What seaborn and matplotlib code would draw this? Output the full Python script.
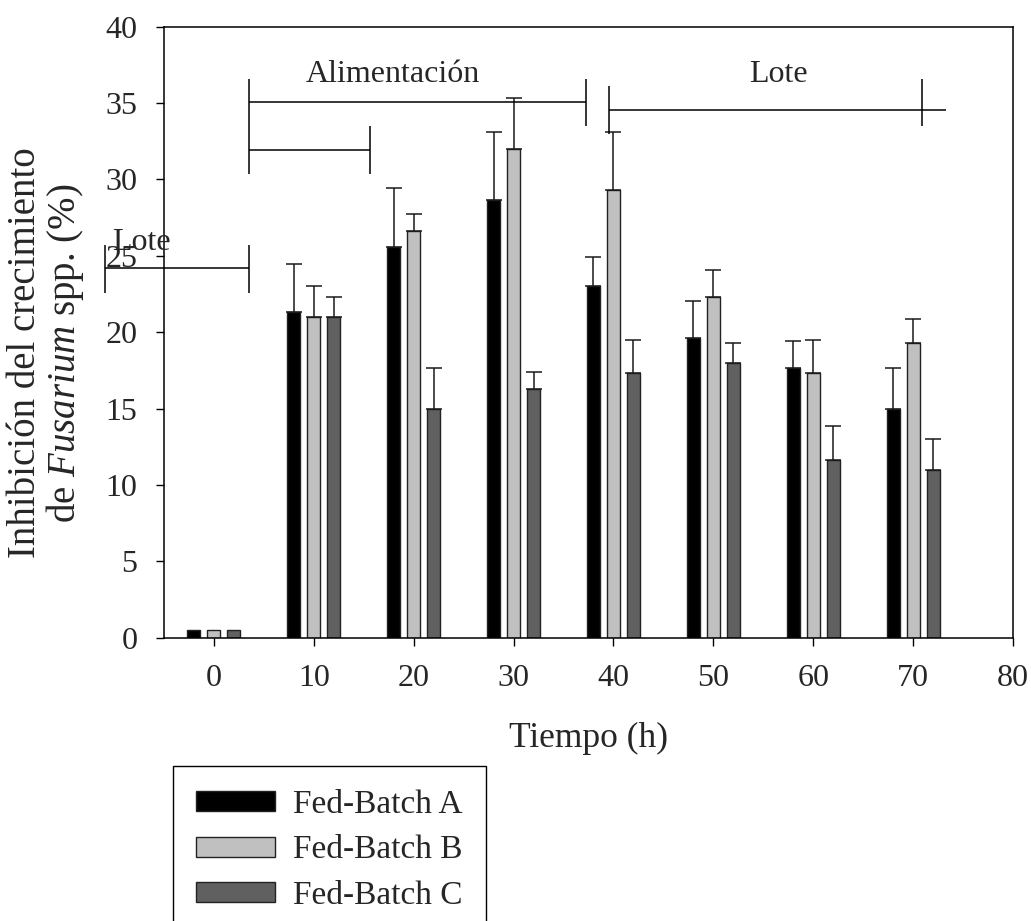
import numpy as np
import pandas as pd
import matplotlib
matplotlib.use("Agg")
import matplotlib.pyplot as plt
import seaborn as sns

# --- data -------------------------------------------------------------
tiempo = [0, 10, 20, 30, 40, 50, 60, 70]
series = ["Fed-Batch A", "Fed-Batch B", "Fed-Batch C"]
fb_a = [0.5, 21.3, 25.6, 28.65, 23.0, 19.65, 17.65, 15.0]
fb_b = [0.5, 21.0, 26.65, 32.0, 29.3, 22.3, 17.3, 19.3]
fb_c = [0.5, 21.0, 15.0, 16.3, 17.3, 18.0, 11.65, 11.0]
err_a = [0, 3.15, 3.85, 4.45, 1.95, 2.4, 1.8, 2.65]
err_b = [0, 2.0, 1.1, 3.3, 3.8, 1.8, 2.2, 1.55]
err_c = [0, 1.3, 2.65, 1.1, 2.2, 1.3, 2.2, 2.0]
colores = ["#000000", "#c0c0c0", "#606060"]
y_ticks = [0, 5, 10, 15, 20, 25, 30, 35, 40]
x_ticks = [0, 10, 20, 30, 40, 50, 60, 70, 80]

df = pd.DataFrame({
    "Tiempo": tiempo * 3,
    "Serie": [s for s in series for _ in tiempo],
    "Inhibicion": fb_a + fb_b + fb_c,
})

# --- style ------------------------------------------------------------
sns.set_style("ticks")
plt.rcParams["font.family"] = ["Liberation Serif", "DejaVu Serif"]
plt.rcParams["mathtext.fontset"] = "custom"
plt.rcParams["mathtext.rm"] = "Liberation Serif"
plt.rcParams["mathtext.it"] = "Liberation Serif:italic"

fig = plt.figure(figsize=(10.31, 9.21), dpi=100)
ax = fig.add_axes([164 / 1031, 1 - 637.7 / 921, (1013 - 164) / 1031, (637.7 - 26.7) / 921])

sns.barplot(data=df, x="Tiempo", y="Inhibicion", hue="Serie", hue_order=series,
            palette=colores, native_scale=True, width=0.6, gap=0.35,
            saturation=1, errorbar=None, edgecolor="#222222", linewidth=1.0,
            ax=ax)

# upper error bars only
for cont, errs in zip(ax.containers, [err_a, err_b, err_c]):
    for bar, e in zip(cont, errs):
        if e <= 0:
            continue
        xc = bar.get_x() + bar.get_width() / 2
        ax.errorbar([xc], [bar.get_height()], yerr=[[0], [e]], fmt="none",
                    ecolor="#1a1a1a", elinewidth=1.1, capsize=6, capthick=1.1,
                    zorder=1)

ax.set_xlim(-5, 80)
ax.set_ylim(0, 40)
ax.set_xticks(x_ticks)
ax.set_yticks(y_ticks)
ax.tick_params(axis="both", direction="out", length=6, width=1.0,
               labelsize=23, pad=13, color="black")
for sp in ax.spines.values():
    sp.set_visible(True)
    sp.set_linewidth(1.1)
    sp.set_color("black")

ax.set_xlabel("Tiempo (h)", fontsize=25.5)
ax.xaxis.set_label_coords(0.5, -0.138)
ax.set_ylabel("")
fig.text(47 / 1031, 1 - 353 / 921,
         "Inhibición del crecimiento\nde $\\it{Fusarium}$ spp. (%)",
         rotation=90, ha="center", va="center", fontsize=28,
         multialignment="center", linespacing=1.0)

# --- phase brackets ---------------------------------------------------
kw = dict(color="black", lw=1.1, clip_on=False, solid_capstyle="butt")
# batch phase (start)
ax.plot([-10.9, 3.5], [24.2, 24.2], **kw)
ax.plot([-10.9, -10.9], [22.55, 25.7], **kw)
ax.plot([3.5, 3.5], [22.55, 25.7], **kw)
ax.text(-7.3, 25.38, "Lote", ha="center", va="baseline", fontsize=23)
# feeding phase
ax.plot([3.5, 37.2], [35.1, 35.1], **kw)
ax.plot([3.5, 3.5], [30.36, 36.6], **kw)
ax.plot([37.2, 37.2], [33.5, 36.6], **kw)
ax.plot([3.5, 15.6], [31.95, 31.95], **kw)
ax.plot([15.6, 15.6], [30.36, 33.5], **kw)
ax.text(17.95, 36.36, "Alimentación", ha="center", va="baseline", fontsize=23)
# batch phase (end)
ax.plot([39.6, 73.3], [34.55, 34.55], **kw)
ax.plot([39.6, 39.6], [33.0, 36.1], **kw)
ax.plot([70.9, 70.9], [33.5, 36.6], **kw)
ax.text(56.5, 36.36, "Lote", ha="center", va="baseline", fontsize=23)

# --- legend -----------------------------------------------------------
handles, labels = ax.get_legend_handles_labels()
if ax.get_legend() is not None:
    ax.get_legend().remove()
leg = fig.legend(handles, labels, loc="upper left",
                 bbox_to_anchor=(173 / 1031, 1 - 766 / 921), borderaxespad=0,
                 fontsize=24, frameon=True, fancybox=False, framealpha=1,
                 edgecolor="black", handlelength=2.35, handleheight=0.55,
                 handletextpad=0.55, borderpad=0.7, labelspacing=0.45)
leg.get_frame().set_linewidth(1.0)

fig.savefig("out.png", dpi=100)
